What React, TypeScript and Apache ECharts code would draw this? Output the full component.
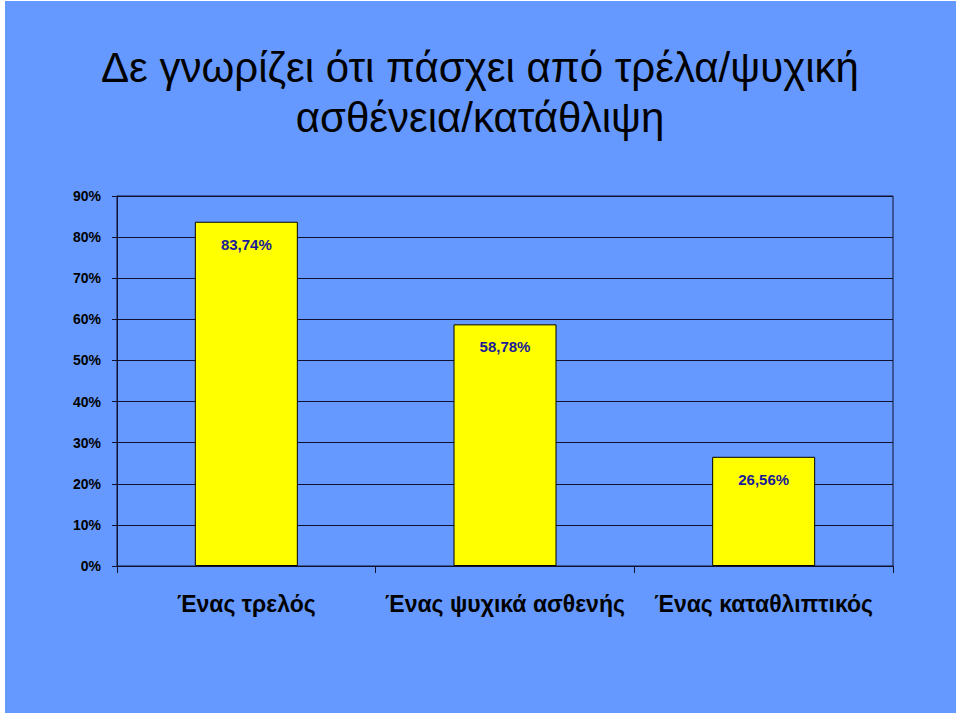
import { useEffect, useRef } from "react";
import * as echarts from "echarts";

const TITLE_LINES = ["Δε γνωρίζει ότι πάσχει από τρέλα/ψυχική", "ασθένεια/κατάθλιψη"];
const CATEGORIES = ["Ένας τρελός", "Ένας ψυχικά ασθενής", "Ένας καταθλιπτικός"];
const VALUES = [83.74, 58.78, 26.56];
const VALUE_LABELS = ["83,74%", "58,78%", "26,56%"];

const BG = "#6699FF";
const LINE = "#101030";
const FONT = "Liberation Sans, Arial, sans-serif";

export default function App() {
  const chartRef = useRef<HTMLDivElement>(null);

  useEffect(() => {
    if (!chartRef.current) return;
    const chart = echarts.init(chartRef.current, null, { renderer: "svg" });

    const option: echarts.EChartsOption = {
      animation: false,
      backgroundColor: "#ffffff",
      textStyle: { fontFamily: FONT },
      graphic: [
        {
          type: "rect",
          z: -10,
          silent: true,
          shape: { x: 5, y: 1, width: 951, height: 712 },
          style: { fill: BG },
        },
        ...TITLE_LINES.map((t, i) => ({
          type: "text" as const,
          x: 480,
          y: 67 + i * 50,
          silent: true,
          style: {
            text: t,
            fill: "#000000",
            font: `normal 42px ${FONT}`,
            textAlign: "center" as const,
            textVerticalAlign: "middle" as const,
          },
        })),
      ],
      grid: {
        left: 117,
        right: 67,
        top: 196,
        bottom: 150,
        show: true,
        borderColor: LINE,
        borderWidth: 1,
        backgroundColor: "transparent",
      },
      xAxis: {
        type: "category",
        data: CATEGORIES,
        axisLine: { lineStyle: { color: LINE, width: 1 } },
        axisTick: { show: true, length: 7, alignWithLabel: false, lineStyle: { color: LINE } },
        axisLabel: {
          margin: 26,
          fontSize: 23,
          fontWeight: "bold",
          color: "#000000",
          interval: 0,
        },
      },
      yAxis: {
        type: "value",
        min: 0,
        max: 90,
        interval: 10,
        axisLine: { show: true, lineStyle: { color: LINE, width: 1 } },
        axisTick: { show: true, length: 5, lineStyle: { color: LINE } },
        splitLine: { show: true, lineStyle: { color: LINE, width: 1 } },
        axisLabel: {
          formatter: "{value}%",
          margin: 16,
          fontSize: 14,
          fontWeight: "bold",
          color: "#000000",
        },
      },
      series: [
        {
          type: "bar",
          data: VALUES,
          barWidth: 103,
          itemStyle: { color: "#FFFF00", borderColor: "#000000", borderWidth: 1 },
          label: {
            show: true,
            position: "insideTop",
            distance: 15,
            fontSize: 15,
            fontWeight: "bold",
            color: "#1a1a99",
            formatter: (p: any) => VALUE_LABELS[p.dataIndex],
          },
        },
      ],
    };

    chart.setOption(option);
    return () => chart.dispose();
  }, []);

  return (
    <div style={{ position: "fixed", left: 0, top: 0, width: 960, height: 716, background: "#fff" }}>
      <div ref={chartRef} style={{ width: 960, height: 716 }} />
    </div>
  );
}
